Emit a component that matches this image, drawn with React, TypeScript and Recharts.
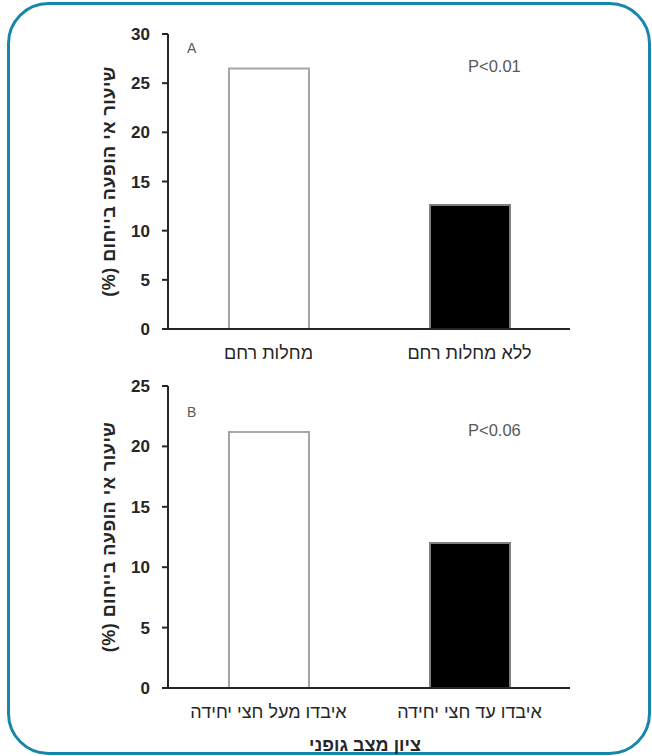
import React from 'react';
import { BarChart, Bar, XAxis, YAxis, Cell, Label } from 'recharts';

const categoriesA = ['מחלות רחם', 'ללא מחלות רחם'];
const valuesA = [26.5, 12.6];
const ticksA = [0, 5, 10, 15, 20, 25, 30];

const categoriesB = ['איבדו מעל חצי יחידה', 'איבדו עד חצי יחידה'];
const valuesB = [21.2, 12.0];
const ticksB = [0, 5, 10, 15, 20, 25];

const yAxisTitle = 'שיעור אי הופעה בייחום (%)';
const xAxisTitleB = 'ציון מצב גופני';
const panelLabels = ['A', 'B'];
const pValues = ['P<0.01', 'P<0.06'];

const barFills = ['#ffffff', '#000000'];
const barStrokes = ['#a6a6a6', '#7f7f7f'];

const FONT = '"Liberation Sans", "DejaVu Sans", Arial, sans-serif';

const YTitle = (props: any) => {
  const vb = props.viewBox || {};
  const cy = vb.y + vb.height / 2;
  const cx = 109;
  return (
    <text
      x={cx}
      y={cy}
      transform={`rotate(-90, ${cx}, ${cy})`}
      textAnchor="middle"
      dominantBaseline="central"
      direction="rtl"
      fontFamily={FONT}
      fontSize={18}
      fontWeight="bold"
      fill="#262626"
      letterSpacing={0.5}
    >
      {yAxisTitle}
    </text>
  );
};

const XTitle = (props: any) => {
  const vb = props.viewBox || {};
  const cx = vb.x + vb.width / 2;
  return (
    <text
      x={cx - 4}
      y={385}
      textAnchor="middle"
      dominantBaseline="central"
      fontFamily={FONT}
      fontSize={18}
      fontWeight="bold"
      fill="#262626"
    >
      {xAxisTitleB}
    </text>
  );
};

function Panel({
  categories,
  values,
  ticks,
  max,
  top,
  height,
  marginTop,
  marginBottom,
  xTitle,
}: any) {
  const data = categories.map((c: string, i: number) => ({ name: c, value: values[i] }));
  return (
    <div style={{ position: 'absolute', left: 0, top, width: 652, height }}>
      <BarChart
        width={652}
        height={height}
        data={data}
        margin={{ top: marginTop, right: 82, bottom: marginBottom, left: 0 }}
        barCategoryGap="30%"
      >
        <XAxis
          dataKey="name"
          axisLine={{ stroke: '#262626', strokeWidth: 2 }}
          tickLine={false}
          tickMargin={11}
          height={30}
          tick={{ fill: '#262626', fontSize: 18, fontFamily: FONT }}
          interval={0}
        >
          {xTitle ? <Label content={<XTitle />} /> : null}
        </XAxis>
        <YAxis
          width={168}
          domain={[0, max]}
          ticks={ticks}
          interval={0}
          axisLine={{ stroke: '#262626', strokeWidth: 2 }}
          tickLine={{ stroke: '#262626', strokeWidth: 2 }}
          tickSize={6}
          tickMargin={12}
          tick={{ fill: '#262626', fontSize: 17, fontWeight: 'bold', fontFamily: FONT }}
        >
          <Label content={<YTitle />} />
        </YAxis>
        <Bar dataKey="value" barSize={80} isAnimationActive={false}>
          {data.map((_: any, i: number) => (
            <Cell key={i} fill={barFills[i]} stroke={barStrokes[i]} strokeWidth={2} />
          ))}
        </Bar>
      </BarChart>
    </div>
  );
}

const textStyle: React.CSSProperties = {
  position: 'absolute',
  fontFamily: FONT,
  color: '#595959',
  lineHeight: '16px',
  whiteSpace: 'nowrap',
};

export default function App() {
  return (
    <div style={{ position: 'absolute', left: 0, top: 0, width: 652, height: 756, background: '#fff', overflow: 'hidden' }}>
      <svg width={652} height={756} style={{ position: 'absolute', left: 0, top: 0 }}>
        <rect x={8.5} y={3.5} width={641} height={750} rx={40} ry={40} fill="none" stroke="#1686ab" strokeWidth={3} />
      </svg>
      <Panel
        categories={categoriesA}
        values={valuesA}
        ticks={ticksA}
        max={30}
        top={0}
        height={370}
        marginTop={34}
        marginBottom={11}
      />
      <Panel
        categories={categoriesB}
        values={valuesB}
        ticks={ticksB}
        max={25}
        top={360}
        height={396}
        marginTop={26}
        marginBottom={38}
        xTitle
      />
      <div style={{ ...textStyle, left: 187, top: 40, fontSize: 14 }}>{panelLabels[0]}</div>
      <div style={{ ...textStyle, left: 187, top: 404, fontSize: 14 }}>{panelLabels[1]}</div>
      <div style={{ ...textStyle, left: 468, top: 58, fontSize: 16.5 }}>{pValues[0]}</div>
      <div style={{ ...textStyle, left: 468, top: 422, fontSize: 16.5 }}>{pValues[1]}</div>
    </div>
  );
}
